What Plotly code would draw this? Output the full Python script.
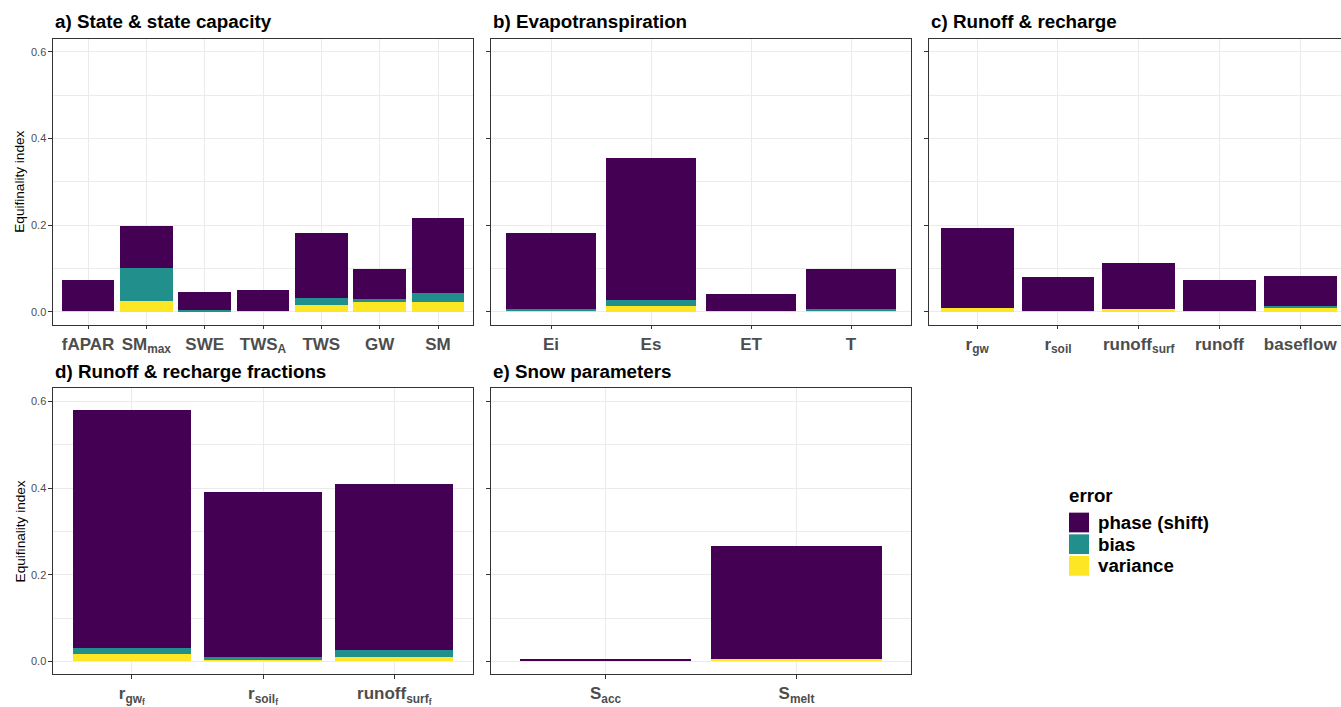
import plotly.graph_objects as go

# ---- data: equifinality index split into error components ----
series_names = ["variance", "bias", "phase (shift)"]
series_colors = ["#FDE725", "#21908C", "#440154"]

a_title = "a) State & state capacity"
a_cats = ["fAPAR", "SM<sub>max</sub>", "SWE", "TWS<sub>A</sub>", "TWS", "GW", "SM"]
a_var = [0.002, 0.024, 0.002, 0.002, 0.015, 0.022, 0.022]
a_bias = [0.0, 0.077, 0.0025, 0.0, 0.016, 0.007, 0.020]
a_phase = [0.072, 0.096, 0.040, 0.047, 0.150, 0.070, 0.175]

b_title = "b) Evapotranspiration"
b_cats = ["Ei", "Es", "ET", "T"]
b_var = [0.003, 0.012, 0.0015, 0.003]
b_bias = [0.003, 0.0138, 0.0, 0.003]
b_phase = [0.1766, 0.3295, 0.040, 0.0925]

c_title = "c) Runoff & recharge"
c_cats = ["r<sub>gw</sub>", "r<sub>soil</sub>", "runoff<sub>surf</sub>", "runoff", "baseflow"]
c_var = [0.0076, 0.0015, 0.0053, 0.0015, 0.0099]
c_bias = [0.0, 0.0, 0.0, 0.0, 0.002]
c_phase = [0.185, 0.079, 0.107, 0.072, 0.071]

d_title = "d) Runoff & recharge fractions"
d_cats = ["r<sub>gw<sub>f</sub></sub>", "r<sub>soil<sub>f</sub></sub>", "runoff<sub>surf<sub>f</sub></sub>"]
d_var = [0.0174, 0.0038, 0.0106]
d_bias = [0.0136, 0.0068, 0.0159]
d_phase = [0.550, 0.3795, 0.382]

e_title = "e) Snow parameters"
e_cats = ["S<sub>acc</sub>", "S<sub>melt</sub>"]
e_var = [0.0012, 0.006]
e_bias = [0.0, 0.0]
e_phase = [0.0025, 0.261]

y_ticks = [0.0, 0.2, 0.4, 0.6]
y_tick_labels = ["0.0", "0.2", "0.4", "0.6"]
y_minor = [0.1, 0.3, 0.5]
y_label = "Equifinality index"
legend_title = "error"

# ---- layout geometry (pixels) ----
W, H = 1341, 707
FONT = "Liberation Sans, Arial, sans-serif"
panel_w = 420.0
panel_h = 290.0
panels = [
    # title, cats, var, bias, phase, left px, top px, show y labels
    (a_title, a_cats, a_var, a_bias, a_phase, 53.0, 39.3, True),
    (b_title, b_cats, b_var, b_bias, b_phase, 491.0, 39.3, False),
    (c_title, c_cats, c_var, c_bias, c_phase, 928.7, 39.3, False),
    (d_title, d_cats, d_var, d_bias, d_phase, 53.0, 394.0, True),
    (e_title, e_cats, e_var, e_bias, e_phase, 491.0, 394.0, False),
]


def py(px):
    return 1 - px / H


fig = go.Figure()
annotations = []
shapes = []

for i, (title, cats, v, b, p, left, top, ylab) in enumerate(panels, start=1):
    xa = "x" if i == 1 else f"x{i}"
    ya = "y" if i == 1 else f"y{i}"
    for name, color, vals in zip(series_names, series_colors, (v, b, p)):
        fig.add_trace(go.Bar(
            x=cats, y=vals, name=name, marker=dict(color=color, line=dict(width=0)),
            width=0.9, xaxis=xa, yaxis=ya, showlegend=False,
        ))

    n = len(cats)
    unit = panel_w / (n + 0.2)
    right = min(left + panel_w, W)
    x_max = -0.6 + (right - left) / unit
    clipped = right < left + panel_w

    xkey = "xaxis" if i == 1 else f"xaxis{i}"
    ykey = "yaxis" if i == 1 else f"yaxis{i}"
    fig.layout[xkey] = dict(
        domain=[left / W, right / W], anchor=ya, type="category",
        range=[-0.6, x_max], showgrid=True, gridcolor="#EBEBEB", gridwidth=1.1,
        ticks="outside", ticklen=3.5, tickwidth=1.1, tickcolor="#333333",
        showline=True, mirror=True, linecolor="#333333", linewidth=1.1,
        tickfont=dict(family=FONT, size=17, color="#4D4D4D", weight="bold"),
        fixedrange=True,
    )
    fig.layout[ykey] = dict(
        domain=[py(top + panel_h), py(top)], anchor=xa,
        range=[-0.03, 0.63], tickmode="array", tickvals=y_ticks, ticktext=y_tick_labels,
        showticklabels=ylab, showgrid=True, gridcolor="#EBEBEB", gridwidth=1.1,
        minor=dict(tickvals=y_minor, showgrid=True, gridcolor="#EBEBEB", gridwidth=0.55, ticks=""),
        zeroline=False, ticks="outside", ticklen=3.5, tickwidth=1.1, tickcolor="#333333",
        showline=True, mirror=(not clipped), linecolor="#333333", linewidth=1.1,
        tickfont=dict(family=FONT, size=11, color="#4D4D4D"),
        fixedrange=True,
    )

    annotations.append(dict(
        text=f"<b>{title}</b>", x=left / W, y=py(top - 17.0), xref="paper", yref="paper",
        xanchor="left", yanchor="middle", showarrow=False,
        font=dict(family=FONT, size=18.8, color="#000000"),
    ))
    if ylab:
        annotations.append(dict(
            text=y_label, x=20 / W, y=py(top + panel_h / 2), xref="paper", yref="paper",
            xanchor="center", yanchor="middle", showarrow=False, textangle=-90,
            font=dict(family=FONT, size=13.6, color="#000000"),
        ))

# ---- legend (top-to-bottom: phase, bias, variance) ----
annotations.append(dict(
    text=f"<b>{legend_title}</b>", x=1067 / W, y=py(503), xref="paper", yref="paper",
    xanchor="left", yanchor="middle", showarrow=False,
    font=dict(family=FONT, size=18.7, color="#000000"),
))
for k, (name, color) in enumerate(zip(series_names[::-1], series_colors[::-1])):
    y0 = 520 + 22 * k
    shapes.append(dict(
        type="rect", xref="paper", yref="paper",
        x0=1069 / W, x1=1089 / W, y0=py(y0 + 20), y1=py(y0),
        fillcolor=color, line=dict(width=0),
    ))
    annotations.append(dict(
        text=f"<b>{name}</b>", x=1096 / W, y=py(y0 + 10), xref="paper", yref="paper",
        xanchor="left", yanchor="middle", showarrow=False,
        font=dict(family=FONT, size=18.7, color="#000000"),
    ))

fig.update_layout(
    width=W, height=H, margin=dict(l=0, r=0, t=0, b=0),
    barmode="stack", bargap=0.1, plot_bgcolor="white", paper_bgcolor="white",
    showlegend=False, annotations=annotations, shapes=shapes,
    font=dict(family=FONT),
)

fig.write_html("out.html")
